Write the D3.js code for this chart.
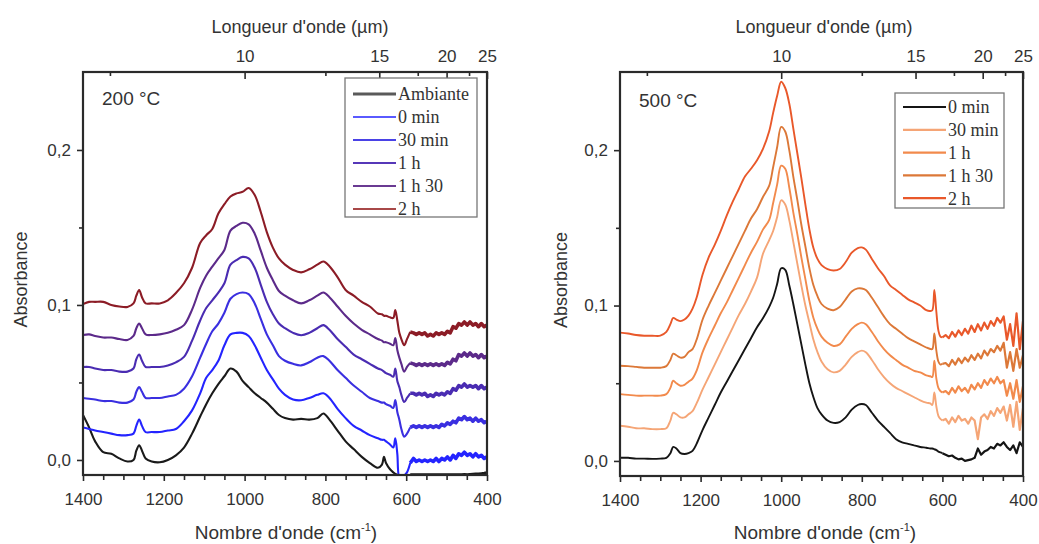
<!DOCTYPE html>
<html><head><meta charset="utf-8">
<script src="https://cdn.jsdelivr.net/npm/d3@7"></script>
<style>
html,body{margin:0;padding:0;background:#fff;}
svg{display:block;}
</style></head>
<body>
<svg id="chart" width="1039" height="544"></svg>
<script>
// ---------------- DATA ----------------
// Left panel (200 °C) wavenumber grid, cm-1
const wnLeft = [1400,1385,1370,1350,1330,1310,1290,1275,1268,1261,1254,1245,1230,1210,1190,1170,1150,1130,1110,1095,1080,1065,1050,1035,1020,1005,990,975,960,945,930,915,900,880,860,840,820,805,790,770,750,730,710,690,670,660,655,650,640,632,627,622,617,612,605,598,590,
 582,575,568,561,554,547,540,533,526,519,512,505,498,491,484,477,470,463,456,449,442,435,428,421,414,407,400];

const leftAmbiante = [0.029,0.021,0.012,0.005,0.004,0.001,-0.001,0.000,0.006,0.0095,0.006,0.001,-0.001,-0.0015,0.000,0.003,0.008,0.017,0.028,0.036,0.043,0.049,0.054,0.059,0.057,0.051,0.047,0.043,0.040,0.037,0.033,0.029,0.027,0.026,0.0265,0.026,0.027,0.030,0.026,0.019,0.012,0.007,0.002,-0.002,-0.005,-0.003,0.002,-0.002,-0.006,-0.008,-0.009,-0.0095,-0.0098,-0.0098,-0.0098,-0.0098,-0.0098,
 -0.0098,-0.0097,-0.0098,-0.0097,-0.0098,-0.0097,-0.0098,-0.0097,-0.0098,-0.0097,-0.0098,-0.0097,-0.0098,-0.0097,-0.0098,-0.0097,-0.0098,-0.0097,-0.0096,-0.0097,-0.0095,-0.0094,-0.0093,-0.0092,-0.009,-0.0088,-0.0085];

const left0min = [0.021,0.020,0.019,0.018,0.017,0.016,0.016,0.017,0.022,0.026,0.022,0.018,0.018,0.018,0.019,0.020,0.025,0.032,0.043,0.053,0.058,0.064,0.074,0.081,0.082,0.082,0.080,0.074,0.066,0.058,0.052,0.046,0.042,0.039,0.0385,0.040,0.042,0.043,0.040,0.033,0.027,0.022,0.019,0.016,0.014,0.013,0.013,0.012,0.010,0.008,0.014,0.004,-0.011,-0.011,-0.010,-0.008,-0.002,
 0.001,-0.001,0.000,-0.001,0.000,-0.001,0.000,-0.001,0.001,-0.001,0.001,0.000,0.002,0.000,0.003,0.001,0.004,0.003,0.005,0.003,0.004,0.002,0.004,0.002,0.003,0.001,0.002];

const left30min = [0.040,0.0395,0.039,0.038,0.038,0.037,0.037,0.039,0.044,0.047,0.044,0.040,0.040,0.040,0.041,0.042,0.046,0.054,0.066,0.075,0.083,0.088,0.095,0.104,0.107,0.108,0.107,0.101,0.091,0.081,0.074,0.067,0.064,0.062,0.061,0.063,0.066,0.067,0.064,0.058,0.053,0.048,0.044,0.040,0.038,0.037,0.037,0.036,0.035,0.0335,0.0387,0.031,0.026,0.020,0.015,0.017,0.021,
 0.022,0.021,0.022,0.021,0.022,0.021,0.022,0.021,0.022,0.021,0.023,0.022,0.024,0.023,0.025,0.024,0.027,0.026,0.028,0.026,0.027,0.025,0.027,0.025,0.026,0.024,0.025];

const left1h = [0.060,0.060,0.059,0.058,0.058,0.057,0.057,0.059,0.065,0.068,0.064,0.060,0.060,0.060,0.061,0.063,0.0665,0.077,0.090,0.098,0.103,0.108,0.114,0.126,0.129,0.131,0.130,0.124,0.113,0.102,0.094,0.088,0.085,0.082,0.0805,0.082,0.085,0.087,0.084,0.078,0.073,0.068,0.065,0.062,0.059,0.058,0.057,0.056,0.055,0.0537,0.059,0.051,0.047,0.042,0.0374,0.040,0.043,
 0.043,0.042,0.043,0.042,0.043,0.041,0.042,0.041,0.043,0.042,0.043,0.042,0.044,0.043,0.046,0.045,0.048,0.047,0.049,0.047,0.048,0.047,0.048,0.046,0.048,0.046,0.047];

const left1h30 = [0.0806,0.081,0.080,0.079,0.079,0.078,0.0774,0.080,0.085,0.088,0.085,0.081,0.0806,0.081,0.082,0.084,0.087,0.097,0.111,0.119,0.1247,0.130,0.1355,0.148,0.151,0.153,0.152,0.146,0.135,0.124,0.116,0.109,0.106,0.103,0.101,0.103,0.106,0.108,0.105,0.099,0.093,0.088,0.084,0.081,0.078,0.077,0.076,0.076,0.075,0.074,0.0787,0.071,0.066,0.062,0.057,0.060,0.0626,
 0.062,0.061,0.062,0.061,0.062,0.061,0.062,0.061,0.062,0.061,0.062,0.061,0.063,0.062,0.065,0.064,0.068,0.067,0.069,0.067,0.069,0.067,0.068,0.066,0.068,0.066,0.067];

const left2h = [0.1006,0.102,0.102,0.102,0.100,0.099,0.0987,0.101,0.106,0.1097,0.105,0.101,0.101,0.101,0.103,0.1077,0.114,0.124,0.140,0.145,0.149,0.159,0.165,0.170,0.172,0.173,0.1755,0.171,0.160,0.147,0.137,0.130,0.126,0.1226,0.121,0.123,0.126,0.128,0.125,0.118,0.1097,0.106,0.102,0.099,0.0945,0.094,0.093,0.093,0.092,0.0916,0.0968,0.090,0.082,0.078,0.074,0.078,0.0826,
 0.082,0.081,0.082,0.081,0.082,0.080,0.081,0.080,0.082,0.081,0.082,0.081,0.083,0.082,0.086,0.085,0.088,0.087,0.089,0.087,0.089,0.087,0.088,0.086,0.088,0.086,0.087];

const leftNames  = ["Ambiante","0 min","30 min","1 h","1 h 30","2 h"];
const leftColors = ["#1a1a1a","#2424ff","#3a2fe0","#4a2cb2","#5c2a8a","#8c1c26"];
const leftLegendColors = ["#5a5a5a","#5a5aff","#4a42e6","#5638b8","#6a3a92","#a84848"];

// Right panel (500 °C)
const wnRight = [1400,1380,1360,1340,1320,1300,1285,1275,1268,1260,1250,1240,1230,1220,1210,1195,1180,1165,1150,1135,1120,1105,1090,1075,1060,1045,1030,1020,1010,1000,990,980,970,960,950,940,930,920,910,900,885,870,855,840,825,810,800,790,775,760,745,730,715,700,685,670,655,640,630,625,620,615,610,605,600,
 592,584,576,568,560,552,544,536,528,520,512,504,496,488,480,472,464,456,448,440,432,424,416,408,400];

const right0min = [0.002,0.002,0.0015,0.0015,0.0013,0.0015,0.002,0.005,0.009,0.008,0.005,0.0045,0.005,0.0065,0.011,0.020,0.028,0.036,0.044,0.051,0.058,0.065,0.072,0.079,0.086,0.092,0.099,0.105,0.114,0.124,0.123,0.113,0.101,0.088,0.075,0.062,0.050,0.041,0.034,0.030,0.026,0.0245,0.025,0.028,0.033,0.036,0.0366,0.036,0.031,0.026,0.022,0.018,0.014,0.012,0.011,0.010,0.009,0.0085,0.008,0.008,0.0075,0.007,0.006,0.0055,0.005,
 0.004,0.003,0.0035,0.002,0.001,0.0015,0.000,0.0005,0.001,0.002,0.008,0.004,0.006,0.007,0.009,0.008,0.011,0.010,0.012,0.009,0.007,0.010,0.005,0.012,0.009];

const right30min = [0.0226,0.022,0.021,0.021,0.0205,0.0205,0.021,0.026,0.031,0.030,0.028,0.028,0.030,0.032,0.037,0.046,0.054,0.062,0.070,0.078,0.086,0.094,0.101,0.109,0.118,0.1335,0.142,0.148,0.157,0.1677,0.165,0.155,0.141,0.127,0.113,0.100,0.089,0.078,0.070,0.064,0.059,0.057,0.058,0.062,0.067,0.070,0.071,0.070,0.065,0.059,0.054,0.050,0.047,0.045,0.043,0.041,0.039,0.0375,0.037,0.036,0.044,0.035,0.029,0.027,0.026,
 0.027,0.024,0.028,0.025,0.029,0.026,0.027,0.024,0.028,0.026,0.014,0.028,0.030,0.027,0.032,0.029,0.034,0.031,0.035,0.026,0.036,0.022,0.038,0.020,0.034];

const right1h = [0.043,0.0425,0.042,0.042,0.042,0.042,0.043,0.047,0.0516,0.050,0.0484,0.049,0.051,0.053,0.058,0.070,0.079,0.087,0.095,0.102,0.110,0.118,0.126,0.134,0.141,0.149,0.155,0.166,0.178,0.190,0.188,0.176,0.160,0.146,0.131,0.117,0.103,0.092,0.085,0.080,0.076,0.074,0.075,0.080,0.085,0.088,0.089,0.088,0.083,0.077,0.072,0.068,0.065,0.062,0.060,0.058,0.057,0.055,0.0545,0.054,0.0645,0.053,0.047,0.045,0.044,
 0.045,0.043,0.047,0.044,0.048,0.045,0.047,0.044,0.049,0.046,0.050,0.047,0.052,0.049,0.053,0.050,0.054,0.050,0.052,0.042,0.050,0.040,0.052,0.038,0.048];

const right1h30 = [0.0613,0.061,0.0605,0.060,0.060,0.060,0.061,0.065,0.069,0.068,0.0665,0.067,0.070,0.072,0.078,0.091,0.100,0.108,0.116,0.124,0.132,0.140,0.148,0.156,0.162,0.170,0.177,0.189,0.202,0.215,0.212,0.200,0.183,0.168,0.152,0.138,0.124,0.113,0.106,0.101,0.098,0.097,0.099,0.104,0.109,0.111,0.111,0.110,0.105,0.099,0.093,0.088,0.085,0.082,0.079,0.077,0.075,0.073,0.072,0.072,0.082,0.071,0.064,0.062,0.0625,
 0.063,0.061,0.065,0.062,0.066,0.063,0.0665,0.064,0.068,0.065,0.069,0.066,0.071,0.068,0.072,0.070,0.074,0.071,0.076,0.060,0.070,0.058,0.072,0.060,0.068];

const right2h = [0.0826,0.082,0.081,0.0806,0.0806,0.0806,0.083,0.088,0.092,0.091,0.090,0.091,0.0935,0.098,0.105,0.120,0.131,0.139,0.148,0.158,0.167,0.175,0.183,0.188,0.1935,0.201,0.212,0.224,0.235,0.244,0.240,0.230,0.214,0.198,0.182,0.165,0.149,0.137,0.130,0.126,0.1235,0.1226,0.1235,0.128,0.134,0.137,0.1374,0.136,0.130,0.124,0.119,0.113,0.110,0.107,0.104,0.102,0.100,0.097,0.0965,0.097,0.110,0.096,0.084,0.080,0.0795,
 0.081,0.079,0.083,0.080,0.084,0.081,0.085,0.082,0.087,0.083,0.088,0.084,0.089,0.085,0.090,0.087,0.092,0.089,0.093,0.078,0.088,0.074,0.095,0.072,0.090];

const rightNames  = ["0 min","30 min","1 h","1 h 30","2 h"];
const rightColors = ["#151515","#f5a576","#f28a4c","#dc7838","#e9582a"];

// Axis ticks
const wnMajorTicks = [1400,1200,1000,800,600,400];
const wnMinorTicks = [1350,1300,1250,1150,1100,1050,950,900,850,750,700,650,550,500,450];
const umMajorTicks = [10,15,20,25];
const umMinorTicks = [7.5,12.5,17.5,22.5];
const absMajorTicks = [0.0,0.1,0.2];
const absMinorTicks = [0.05,0.15];

// ---------------- DRAW ----------------
const svg = d3.select("#chart");
const sans = "'Liberation Sans', Arial, sans-serif";
const serif = "'Liberation Serif', 'Times New Roman', serif";
const fmtAbs = d => d3.format(".1f")(d).replace(".", ",");

function panel(cfg){
  const g = svg.append("g");
  const x = d3.scaleLinear().domain([1400,400]).range([cfg.x0, cfg.x1]);
  const y = d3.scaleLinear().domain([-0.0097, 0.2503]).range([cfg.yB, cfg.yT]);

  const clipId = "clip" + cfg.id;
  svg.append("clipPath").attr("id", clipId).append("rect")
    .attr("x", cfg.x0).attr("y", cfg.yT).attr("width", cfg.x1-cfg.x0).attr("height", cfg.yB-cfg.yT);

  // curves: smooth part + noisy part (noisy part drawn as a band)
  const lineS = d3.line().x(d => x(d[0])).y(d => y(d[1])).curve(d3.curveCatmullRom.alpha(0.5));
  const lineN = d3.line().x(d => x(d[0])).y(d => y(d[1])).curve(d3.curveLinear);
  const cg = g.append("g").attr("clip-path", `url(#${clipId})`);
  cfg.series.forEach((s, i) => {
    const n = Math.min(cfg.wn.length, s.length);
    const pts = d3.range(n).map(k => [cfg.wn[k], s[k]]);
    const split = pts.findIndex(p => p[0] < cfg.noiseFrom);
    const smooth = pts.slice(0, split);
    const noisy = pts.slice(split - 1);
    cg.append("path").datum(noisy).attr("d", lineN)
      .attr("fill","none").attr("stroke", cfg.colors[i]).attr("stroke-width", cfg.noiseLw)
      .attr("stroke-linejoin","round");
    cg.append("path").datum(smooth).attr("d", lineS)
      .attr("fill","none").attr("stroke", cfg.colors[i]).attr("stroke-width", cfg.lw)
      .attr("stroke-linejoin","round");
  });

  // bottom axis
  const axB = g.append("g").attr("transform", `translate(0,${cfg.yB})`)
    .call(d3.axisBottom(x).tickValues(wnMajorTicks).tickSize(6).tickPadding(12).tickFormat(d3.format("d")));
  const axBm = g.append("g").attr("transform", `translate(0,${cfg.yB})`)
    .call(d3.axisBottom(x).tickValues(wnMinorTicks).tickSize(5).tickFormat(""));
  // top axis (wavelength, inward ticks)
  const axT = g.append("g").attr("transform", `translate(0,${cfg.yT})`)
    .call(d3.axisTop(x).tickValues(umMajorTicks.map(u => 10000/u)).tickSizeInner(-7).tickSizeOuter(0).tickPadding(10)
      .tickFormat((d,i) => umMajorTicks[i]));
  const axTm = g.append("g").attr("transform", `translate(0,${cfg.yT})`)
    .call(d3.axisTop(x).tickValues(umMinorTicks.map(u => 10000/u)).tickSizeInner(-4).tickSizeOuter(0).tickFormat(""));
  // left axis
  const axL = g.append("g").attr("transform", `translate(${cfg.x0},0)`)
    .call(d3.axisLeft(y).tickValues(absMajorTicks).tickSize(6).tickPadding(6).tickFormat(fmtAbs));
  const axLm = g.append("g").attr("transform", `translate(${cfg.x0},0)`)
    .call(d3.axisLeft(y).tickValues(absMinorTicks).tickSize(4).tickFormat(""));

  [axB,axBm,axT,axTm,axL,axLm].forEach(a => {
    a.select(".domain").remove();
    a.selectAll(".tick line").attr("stroke","#2a2a2a").attr("stroke-width",1.6);
    a.selectAll(".tick text").attr("fill","#333").style("font-family", sans).style("font-size","17px");
  });

  // frame
  g.append("rect").attr("x", cfg.x0).attr("y", cfg.yT).attr("width", cfg.x1-cfg.x0).attr("height", cfg.yB-cfg.yT)
    .attr("fill","none").attr("stroke","#2a2a2a").attr("stroke-width",2.2);

  // titles
  g.append("text").attr("x", cfg.topTitleX).attr("y", 33).attr("text-anchor","middle")
    .style("font-family", sans).style("font-size","18px").attr("fill","#333").text("Longueur d'onde (µm)");
  const bt = g.append("text").attr("x", cfg.botTitleX).attr("y", 539).attr("text-anchor","middle")
    .style("font-family", sans).style("font-size","19px").attr("fill","#333");
  bt.append("tspan").text("Nombre d'onde (cm");
  bt.append("tspan").attr("dy", -8).style("font-size","11px").text("-1");
  bt.append("tspan").attr("dy", 8).text(")");
  g.append("text").attr("transform", `translate(${cfg.yTitleX},${(cfg.yT+cfg.yB)/2 + 6}) rotate(-90)`)
    .attr("text-anchor","middle").style("font-family", sans).style("font-size","18px").attr("fill","#333").text("Absorbance");

  // panel label
  g.append("text").attr("x", cfg.x0 + 19).attr("y", cfg.labelY).style("font-family", sans).style("font-size","19px")
    .attr("fill","#333").text(cfg.label);

  // legend
  const L = cfg.legend;
  g.append("rect").attr("x", L.x).attr("y", L.y).attr("width", L.w).attr("height", L.h)
    .attr("fill","#fff").attr("stroke","#777").attr("stroke-width",1.3);
  cfg.names.forEach((nm, i) => {
    const yy = L.y0 + i*L.dy;
    g.append("line").attr("x1", L.x+8).attr("x2", L.x+8+L.len).attr("y1", yy).attr("y2", yy)
      .attr("stroke", cfg.legendColors[i]).attr("stroke-width", i===0 && cfg.id==="L" ? 3 : 2.2);
    g.append("text").attr("x", L.x+10+L.len).attr("y", yy).attr("dy","0.35em")
      .style("font-family", serif).style("font-size","18px").attr("fill","#333").text(nm);
  });
}

panel({id:"L", x0:83, x1:487, yT:72, yB:475, wn: wnLeft,
  series:[leftAmbiante,left0min,left30min,left1h,left1h30,left2h], colors:leftColors, legendColors:leftLegendColors,
  names:leftNames, lw:2.1, noiseLw:3.6, noiseFrom:585, topTitleX:300, botTitleX:286, yTitleX:27, label:"200 °C", labelY:105,
  legend:{x:345, y:78, w:132, h:139, y0:94, dy:23, len:43}});

panel({id:"R", x0:620, x1:1023, yT:72, yB:476, wn: wnRight,
  series:[right0min,right30min,right1h,right1h30,right2h], colors:rightColors, legendColors:rightColors,
  names:rightNames, lw:1.9, noiseLw:2.2, noiseFrom:596, topTitleX:824, botTitleX:825, yTitleX:567, label:"500 °C", labelY:107,
  legend:{x:895, y:93, w:109, h:115, y0:107, dy:22.8, len:43}});
</script>
</body></html>
